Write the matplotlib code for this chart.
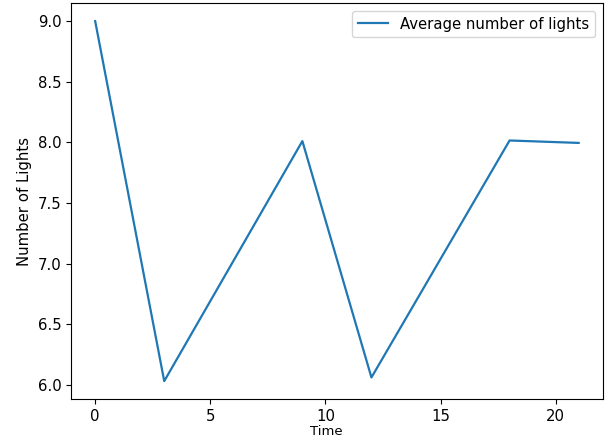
import matplotlib
matplotlib.use("Agg")
import matplotlib.pyplot as plt

time = [0, 3, 9, 12, 18, 21]
avg_lights = [9.0, 6.03, 8.01, 6.06, 8.015, 7.995]

plt.rcParams['font.size'] = 10.75

fig, ax = plt.subplots(figsize=(6.12, 4.41), dpi=100)
fig.subplots_adjust(left=0.116, right=0.985, top=0.993, bottom=0.095)

ax.plot(time, avg_lights, label='Average number of lights', linewidth=1.6)
ax.set_xlabel('Time', fontsize=9.5, labelpad=1, x=0.48)
ax.set_ylabel('Number of Lights')
ax.legend(loc='upper right')

fig.savefig('out.png', dpi=100)
